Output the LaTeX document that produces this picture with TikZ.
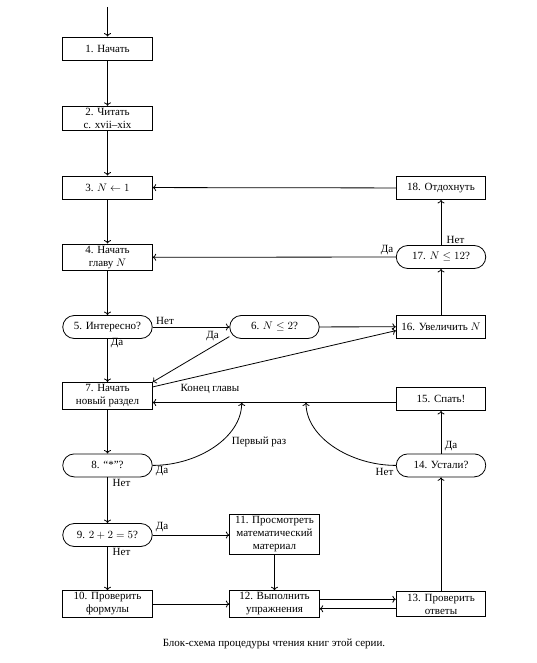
\documentclass[tikz,border=0pt]{standalone}
\usepackage{fontspec}
\setmainfont{Liberation Serif}
\usepackage{amsmath}
\usetikzlibrary{arrows.meta}

\begin{document}
\begin{tikzpicture}[x=1pt,y=-1pt,line width=0.8pt,>={To[width=7pt,length=3.5pt]},
  every node/.style={font=\fontsize{11}{13}\selectfont},
  box/.style={draw, minimum width=89.5pt, minimum height=23pt, inner sep=2pt, align=center},
  ask/.style={box, rounded corners=11.5pt},
  lbl/.style={inner sep=0pt}]
\useasboundingbox (0,0) rectangle (537,663);
\coordinate (start) at (107.5,7);
\node[box] (n1) at (107.5,48.5) {1. Начать};
\node[box] (n2) at (107.5,118.5) {2. Читать\\с. xvii--xix};
\node[box] (n3) at (107.5,187.5) {3. $N \leftarrow 1$};
\node[box] (n4) at (107.5,257.3) {4. Начать\\главу $N$};
\node[ask] (n5) at (107.5,327) {5. Интересно?};
\node[ask] (n6) at (274.5,327) {6. $N \leq 2$?};
\node[box] (n7) at (107.5,395.7) {7. Начать\\новый раздел};
\node[ask] (n8) at (107.5,465.4) {8. “*”?};
\node[ask] (n9) at (107.5,535) {9. $2+2=5$?};
\node[box] (n10) at (107.5,604) {10. Проверить\\формулы};
\node[box] (n11) at (274.5,534.5) {11. Просмотреть\\математический\\материал};
\node[box] (n12) at (274.5,604) {12. Выполнить\\упражнения};
\node[box] (n13) at (441,604) {13. Проверить\\ответы};
\node[ask] (n14) at (441,465.4) {14. Устали?};
\node[box] (n15) at (441,399) {15. Спать!};
\node[box] (n16) at (441,326.7) {16. Увеличить $N$};
\node[ask] (n17) at (441,257) {17. $N \leq 12$?};
\node[box] (n18) at (441,188) {18. Отдохнуть};
\coordinate (j1) at (241.7,402.5);
\coordinate (j2) at (306,402.5);
\node[lbl] (no5) at (165,321) {Нет};
\node[lbl] (yes5) at (117,343.5) {Да};
\node[lbl] (yes6) at (212.5,336) {Да};
\node[lbl] (endch) at (210,389) {Конец главы};
\node[lbl] (first) at (259,441.7) {Первый раз};
\node[lbl] (yes8) at (162,471.5) {Да};
\node[lbl] (no8) at (121.5,483) {Нет};
\node[lbl] (yes9) at (162,527.5) {Да};
\node[lbl] (no9) at (121.5,552) {Нет};
\node[lbl] (no14) at (384.5,471.7) {Нет};
\node[lbl] (yes14) at (451,446) {Да};
\node[lbl] (no17) at (455.5,240) {Нет};
\node[lbl] (yes17) at (387,250) {Да};
\node (caption) at (274,644) {Блок-схема процедуры чтения книг этой серии.};
\draw[->] (start) -- (n1);
\draw[->] (n1) -- (n2);
\draw[->] (n2) -- (n3);
\draw[->] (n3) -- (n4);
\draw[->] (n4) -- (n5);
\draw[->] (n5) -- (n7);
\draw[->] (n7) -- (n8);
\draw[->] (n8) -- (n9);
\draw[->] (n9) -- (n10);
\draw[->] (n5) -- (n6);
\draw[->] (n6) -- (n16);
\draw[->] (n6.192) -- (n7.north east);
\draw[->] (n7.11) -- (n16.185);
\draw[->] (n16) -- (n17);
\draw[->] (n17) -- (n18);
\draw[->] (n17) -- (n4);
\draw[->] (n18) -- (n3);
\draw[->] (j2 -| n15.west) -- (j2 -| n7.east);
\draw[->] (n8.east) .. controls +(45,0) and +(0,35) .. (j1);
\draw[->] (n14.west) .. controls +(-45,0) and +(0,35) .. (j2);
\draw[->] (n14) -- (n15);
\draw[->] (n13) -- (n14);
\draw[->] (n9) -- (n9 -| n11.west);
\draw[->] (n11) -- (n12);
\draw[->] (n10) -- (n12);
\draw[->] (n12.6) -- (n13.174);
\draw[->] (n13.186) -- (n12.354);
\end{tikzpicture}
\end{document}
